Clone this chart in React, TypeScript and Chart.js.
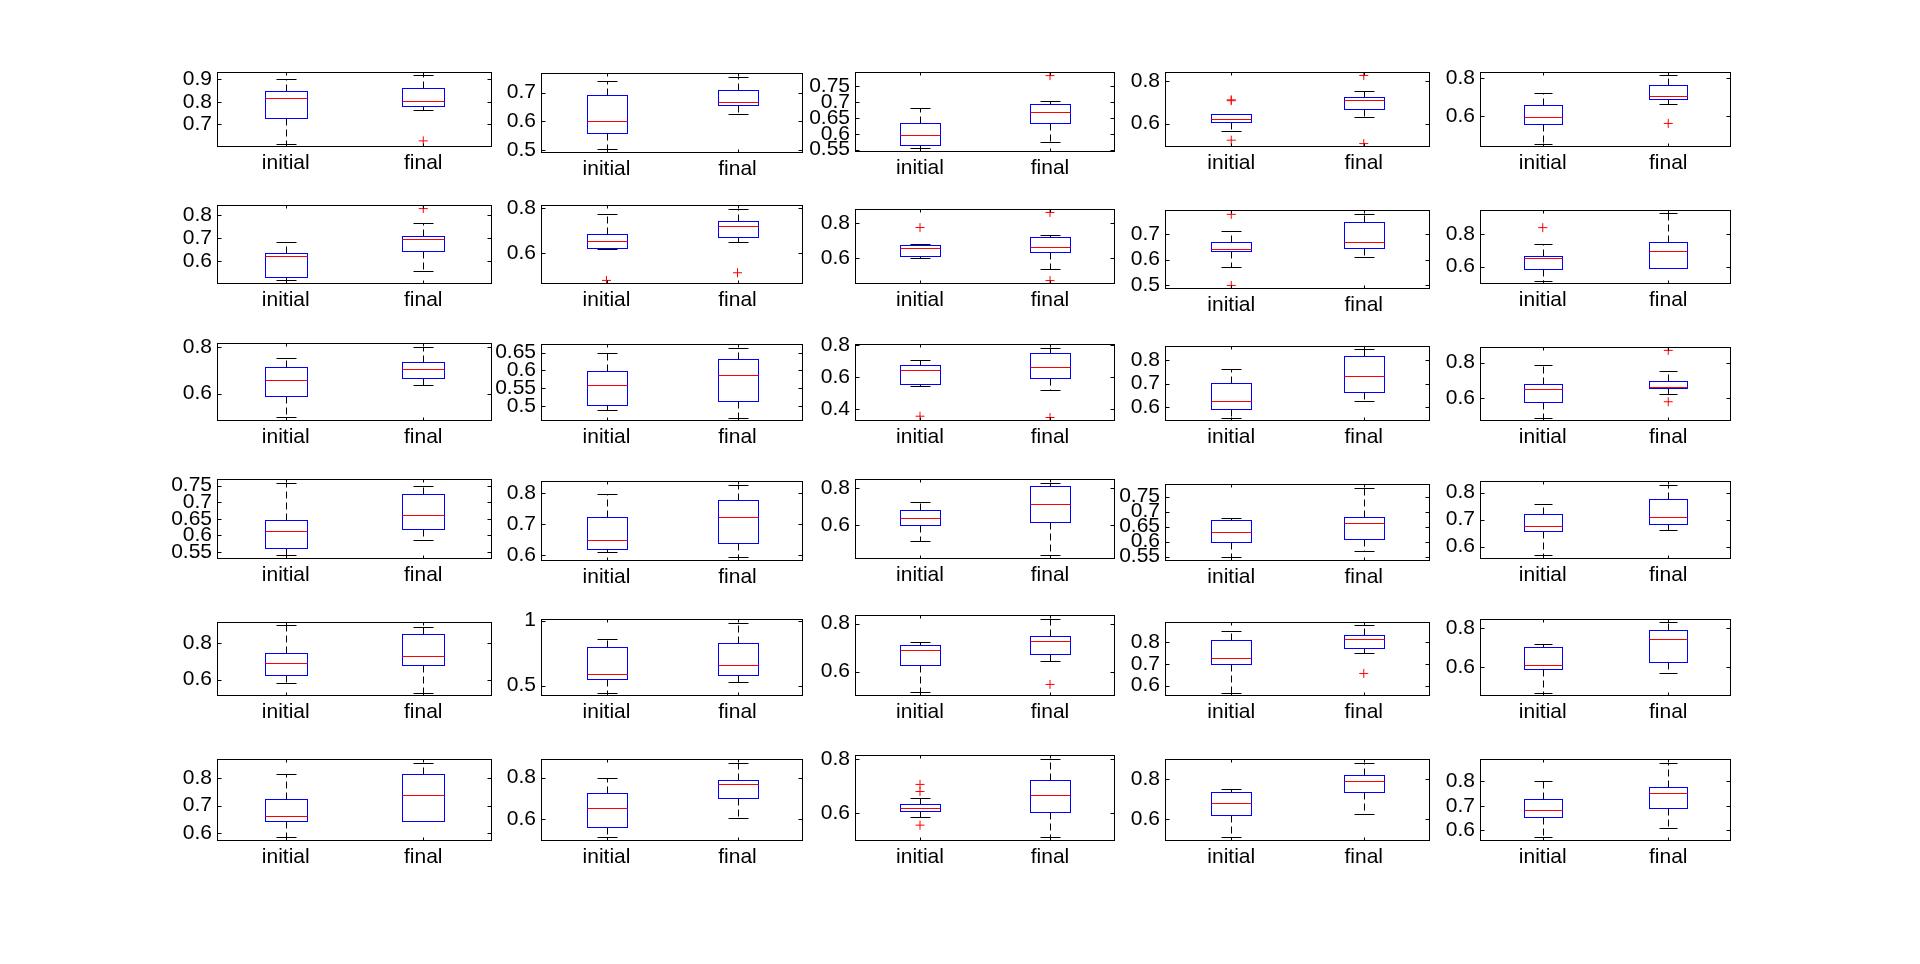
import React, { useEffect, useRef } from "react";
import { Chart, registerables } from "chart.js";
Chart.register(...registerables);

const categories = ["initial", "final"];

// [lower whisker, q1, median, q3, upper whisker] per subplot (row-major, 6 x 5)
const initialStats = [
  [0.615, 0.730, 0.819, 0.849, 0.900],
  [0.502, 0.558, 0.602, 0.691, 0.741],
  [0.554, 0.565, 0.597, 0.635, 0.681],
  [0.567, 0.608, 0.622, 0.643, 0.645],
  [0.457, 0.557, 0.593, 0.656, 0.723],
  [0.518, 0.534, 0.624, 0.637, 0.685],
  [0.618, 0.625, 0.656, 0.687, 0.776],
  [0.602, 0.613, 0.659, 0.676, 0.682],
  [0.570, 0.632, 0.643, 0.670, 0.712],
  [0.514, 0.582, 0.655, 0.665, 0.739],
  [0.496, 0.591, 0.657, 0.717, 0.755],
  [0.491, 0.505, 0.560, 0.598, 0.650],
  [0.544, 0.556, 0.644, 0.675, 0.706],
  [0.556, 0.594, 0.628, 0.704, 0.763],
  [0.492, 0.581, 0.654, 0.682, 0.789],
  [0.540, 0.561, 0.612, 0.645, 0.759],
  [0.610, 0.622, 0.651, 0.724, 0.798],
  [0.520, 0.605, 0.642, 0.685, 0.727],
  [0.547, 0.597, 0.633, 0.673, 0.680],
  [0.567, 0.656, 0.678, 0.719, 0.759],
  [0.584, 0.627, 0.693, 0.747, 0.898],
  [0.447, 0.553, 0.591, 0.793, 0.856],
  [0.513, 0.629, 0.692, 0.713, 0.725],
  [0.567, 0.702, 0.726, 0.809, 0.851],
  [0.467, 0.590, 0.610, 0.703, 0.718],
  [0.586, 0.643, 0.661, 0.725, 0.814],
  [0.514, 0.562, 0.652, 0.724, 0.800],
  [0.585, 0.607, 0.620, 0.633, 0.655],
  [0.511, 0.620, 0.679, 0.733, 0.748],
  [0.572, 0.653, 0.685, 0.730, 0.803],
];

const finalStats = [
  [0.766, 0.784, 0.804, 0.864, 0.918],
  [0.626, 0.657, 0.667, 0.711, 0.756],
  [0.573, 0.635, 0.669, 0.693, 0.702],
  [0.633, 0.667, 0.710, 0.724, 0.752],
  [0.661, 0.687, 0.703, 0.760, 0.812],
  [0.560, 0.643, 0.698, 0.711, 0.763],
  [0.652, 0.674, 0.721, 0.745, 0.799],
  [0.539, 0.636, 0.665, 0.720, 0.728],
  [0.612, 0.647, 0.670, 0.748, 0.779],
  [0.588, 0.592, 0.696, 0.751, 0.924],
  [0.635, 0.667, 0.706, 0.735, 0.804],
  [0.469, 0.516, 0.587, 0.631, 0.664],
  [0.519, 0.594, 0.663, 0.750, 0.785],
  [0.624, 0.662, 0.730, 0.818, 0.844],
  [0.626, 0.660, 0.661, 0.699, 0.755],
  [0.585, 0.618, 0.663, 0.726, 0.750],
  [0.594, 0.641, 0.724, 0.779, 0.827],
  [0.441, 0.616, 0.712, 0.812, 0.828],
  [0.567, 0.610, 0.663, 0.683, 0.780],
  [0.663, 0.685, 0.711, 0.778, 0.830],
  [0.529, 0.682, 0.731, 0.851, 0.889],
  [0.530, 0.583, 0.659, 0.826, 0.985],
  [0.646, 0.675, 0.729, 0.750, 0.821],
  [0.749, 0.772, 0.814, 0.833, 0.879],
  [0.569, 0.626, 0.744, 0.790, 0.831],
  [0.643, 0.646, 0.739, 0.814, 0.854],
  [0.605, 0.700, 0.771, 0.790, 0.871],
  [0.512, 0.604, 0.666, 0.721, 0.800],
  [0.625, 0.733, 0.792, 0.821, 0.880],
  [0.608, 0.693, 0.754, 0.778, 0.876],
];

const initialOutliers = [
  [], [], [], [0.708, 0.712, 0.522], [],
  [], [0.480], [0.773], [0.776, 0.500], [0.837],
  [], [], [0.358], [], [],
  [], [], [], [], [],
  [], [], [], [], [],
  [], [], [0.706, 0.680, 0.556], [], [],
];

const finalOutliers = [
  [0.627], [], [0.783], [0.827, 0.506], [0.562],
  [0.827], [0.514], [0.859, 0.472], [], [],
  [], [], [0.350], [], [0.869, 0.581],
  [], [], [], [], [],
  [], [], [0.546], [0.656], [],
  [], [], [], [], [],
];

const yTicks = [
  [0.7, 0.8, 0.9], [0.5, 0.6, 0.7], [0.55, 0.6, 0.65, 0.7, 0.75], [0.6, 0.8], [0.6, 0.8],
  [0.6, 0.7, 0.8], [0.6, 0.8], [0.6, 0.8], [0.5, 0.6, 0.7], [0.6, 0.8],
  [0.6, 0.8], [0.5, 0.55, 0.6, 0.65], [0.4, 0.6, 0.8], [0.6, 0.7, 0.8], [0.6, 0.8],
  [0.55, 0.6, 0.65, 0.7, 0.75], [0.6, 0.7, 0.8], [0.6, 0.8], [0.55, 0.6, 0.65, 0.7, 0.75], [0.6, 0.7, 0.8],
  [0.6, 0.8], [0.5, 1], [0.6, 0.8], [0.6, 0.7, 0.8], [0.6, 0.8],
  [0.6, 0.7, 0.8], [0.6, 0.8], [0.6, 0.8], [0.6, 0.8], [0.6, 0.7, 0.8],
];

// layout (page pixels) of each plot box
const colLeft = [217, 541, 855, 1165, 1480];
const colRight = [492, 803, 1115, 1430, 1731];
const boxTop = [
  72, 73, 72, 72, 72,
  205, 205, 209, 210, 210,
  343, 344, 344, 346, 347,
  479, 481, 479, 484, 481,
  622, 619, 615, 622, 619,
  759, 759, 755, 759, 759,
];
const boxBottom = [
  147, 153, 152, 147, 147,
  284, 284, 284, 289, 284,
  421, 421, 421, 421, 421,
  559, 561, 559, 561, 559,
  696, 696, 696, 696, 696,
  841, 841, 841, 841, 841,
];

const FONT = { family: "'Liberation Sans', Arial, sans-serif", size: 21 };
const PAD_L = 72, PAD_T = 18, PAD_R = 6, PAD_B = 42;

const crisp = (v: number) => Math.round(v) + 0.5;

const boxPlugin = {
  id: "boxDraw",
  afterDatasetsDraw(chart: any, _args: any, opts: any) {
    const idx = opts.idx as number;
    const { ctx, chartArea: ca } = chart;
    const x = chart.scales.x;
    const y = chart.scales.y;
    const aw = ca.right - ca.left;
    const seg = (x1: number, y1: number, x2: number, y2: number) => {
      ctx.beginPath();
      ctx.moveTo(x1, y1);
      ctx.lineTo(x2, y2);
      ctx.stroke();
    };
    ctx.save();
    ctx.lineWidth = 1;
    [initialStats[idx], finalStats[idx]].forEach((s, i) => {
      const cx = crisp(x.getPixelForValue(i));
      const bw = Math.round(aw * 0.075);
      const cw = Math.round(aw * 0.0375);
      const [lw, q1, md, q3, uw] = s.map((v) => crisp(y.getPixelForValue(v)));
      ctx.strokeStyle = "#000000";
      ctx.setLineDash([7, 4]);
      if (uw < q3) seg(cx, q3, cx, uw);
      if (lw > q1) seg(cx, q1, cx, lw);
      ctx.setLineDash([]);
      seg(cx - cw, uw, cx + cw, uw);
      seg(cx - cw, lw, cx + cw, lw);
      ctx.strokeStyle = "#0000ff";
      ctx.strokeRect(cx - bw, q3, 2 * bw, q1 - q3);
      ctx.strokeStyle = "#ff0000";
      seg(cx - bw, md, cx + bw, md);
    });
    ctx.strokeStyle = "#000000";
    const l = crisp(ca.left), r = crisp(ca.right - 1), t = crisp(ca.top), b = crisp(ca.bottom - 1);
    ctx.strokeRect(l, t, r - l, b - t);
    y.ticks.forEach((tk: any) => {
      const py = crisp(y.getPixelForValue(tk.value));
      seg(l, py, l + 4, py);
      seg(r, py, r - 4, py);
    });
    categories.forEach((_c, i) => {
      const px = crisp(x.getPixelForValue(i));
      seg(px, b, px, b - 3);
      seg(px, t, px, t + 3);
    });
    ctx.restore();
  },
};

function BoxPanel({ idx }: { idx: number }) {
  const ref = useRef<HTMLCanvasElement>(null);
  const col = idx % 5;
  const L = colLeft[col];
  const R = colRight[col];
  const T = boxTop[idx];
  const B = boxBottom[idx];
  const w = R - L + PAD_L + PAD_R;
  const h = B - T + PAD_T + PAD_B;

  useEffect(() => {
    const all = [
      ...initialStats[idx],
      ...finalStats[idx],
      ...initialOutliers[idx],
      ...finalOutliers[idx],
    ];
    const lo = Math.min(...all);
    const hi = Math.max(...all);
    const pad = (hi - lo) * 0.05;
    const outlierPoints = [
      ...initialOutliers[idx].map((v) => ({ x: categories[0], y: v })),
      ...finalOutliers[idx].map((v) => ({ x: categories[1], y: v })),
    ];
    const chart = new Chart(ref.current as HTMLCanvasElement, {
      type: "line",
      data: {
        labels: categories,
        datasets: [
          {
            data: outlierPoints as any,
            showLine: false,
            pointStyle: "cross",
            pointRadius: 4.5,
            pointBorderWidth: 1,
            pointBorderColor: "#ff0000",
            borderColor: "#ff0000",
            backgroundColor: "#ff0000",
          },
        ],
      },
      options: {
        animation: false,
        responsive: false,
        devicePixelRatio: 1,
        events: [],
        layout: { padding: { left: 0, top: PAD_T, right: PAD_R, bottom: 0 } },
        plugins: {
          legend: { display: false },
          tooltip: { enabled: false },
          boxDraw: { idx },
        } as any,
        scales: {
          x: {
            type: "category",
            offset: true,
            grid: { display: false, drawTicks: false },
            border: { display: false },
            ticks: { color: "#000", font: FONT, padding: 4, maxRotation: 0, autoSkip: false },
            afterFit: (s: any) => {
              s.height = PAD_B;
            },
          },
          y: {
            type: "linear",
            min: lo - pad,
            max: hi + pad,
            grid: { display: false, drawTicks: false },
            border: { display: false },
            ticks: {
              color: "#000",
              font: FONT,
              padding: 5,
              autoSkip: false,
              callback: (v: any) => String(Math.round(Number(v) * 100) / 100),
            },
            afterBuildTicks: (s: any) => {
              s.ticks = yTicks[idx].map((v) => ({ value: v }));
            },
            afterFit: (s: any) => {
              s.width = PAD_L;
            },
          },
        },
      },
      plugins: [boxPlugin],
    });
    return () => chart.destroy();
  }, [idx]);

  return (
    <canvas
      ref={ref}
      width={w}
      height={h}
      style={{ position: "absolute", left: L - PAD_L, top: T - PAD_T, width: w, height: h }}
    />
  );
}

export default function App() {
  return (
    <div
      style={{
        position: "absolute",
        left: 0,
        top: 0,
        width: 1920,
        height: 964,
        background: "#ffffff",
      }}
    >
      {initialStats.map((_s, i) => (
        <BoxPanel key={i} idx={i} />
      ))}
    </div>
  );
}
